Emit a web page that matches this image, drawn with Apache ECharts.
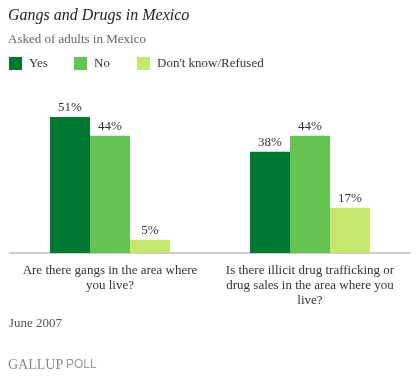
<!DOCTYPE html>
<html>
<head>
<meta charset="utf-8">
<script src="https://cdn.jsdelivr.net/npm/echarts@6/dist/echarts.min.js"></script>
<style>
html, body { margin: 0; padding: 0; background: #fff; }
#chart { width: 417px; height: 377px; }
</style>
</head>
<body>
<div id="chart"></div>
<script>
var categories = ['Are there gangs in the area where\nyou live?', 'Is there illicit drug trafficking or\ndrug sales in the area where you\nlive?'];
var seriesNames = ['Yes', 'No', "Don't know/Refused"];
var yesValues = [51, 38];
var noValues = [44, 44];
var dkValues = [5, 17];
var colors = ['#007832', '#63c452', '#c6e670'];

var serif = '"Liberation Serif", "DejaVu Serif", serif';

function makeSeries(name, values, color) {
    return {
        name: name,
        type: 'bar',
        data: values,
        barWidth: 40,
        barGap: '0%',
        itemStyle: { color: color },
        label: {
            show: true,
            position: 'top',
            distance: 3,
            formatter: '{c}%',
            color: '#333',
            fontFamily: serif,
            fontSize: 13
        }
    };
}

var option = {
    animation: false,
    color: colors,
    title: {
        text: 'Gangs and Drugs in Mexico',
        subtext: 'Asked of adults in Mexico',
        left: 3,
        top: 3,
        itemGap: 9,
        textStyle: { fontFamily: serif, fontStyle: 'italic', fontWeight: 'normal', fontSize: 16, color: '#222' },
        subtextStyle: { fontFamily: serif, fontSize: 13, color: '#666' }
    },
    legend: [0, 1, 2].map(function (i) {
        var lefts = [9, 74, 137];
        return {
            data: [seriesNames[i]],
            left: lefts[i],
            top: 57,
            padding: 0,
            itemWidth: 13,
            itemHeight: 13,
            icon: 'rect',
            selectedMode: false,
            textStyle: { fontFamily: serif, fontSize: 13, color: '#333', padding: [0, 0, 0, 2] }
        };
    }),
    grid: { left: 10, right: 7, top: 93, height: 160, containLabel: false },
    xAxis: {
        type: 'category',
        data: categories,
        axisLine: { lineStyle: { color: '#cccccc', width: 2 } },
        axisTick: { show: false },
        axisLabel: {
            interval: 0,
            margin: 10,
            color: '#333',
            fontFamily: serif,
            fontSize: 13,
            lineHeight: 15,
            align: 'center'
        }
    },
    yAxis: {
        type: 'value',
        min: 0,
        max: 60,
        show: false,
        splitLine: { show: false }
    },
    graphic: [
        {
            type: 'text',
            left: 9,
            top: 317,
            style: { text: 'June 2007', fill: '#555', font: '13px ' + serif }
        },
        {
            type: 'text',
            left: 8,
            top: 358,
            style: { text: 'GALLUP', fill: '#888', font: '14px ' + serif }
        },
        {
            type: 'text',
            left: 66,
            top: 359,
            style: { text: 'POLL', fill: '#999', font: '12px "Liberation Sans", sans-serif' }
        }
    ],
    series: [
        makeSeries(seriesNames[0], yesValues, colors[0]),
        makeSeries(seriesNames[1], noValues, colors[1]),
        makeSeries(seriesNames[2], dkValues, colors[2])
    ]
};

var myChart = echarts.init(document.getElementById('chart'));
myChart.setOption(option);
</script>
</body>
</html>
